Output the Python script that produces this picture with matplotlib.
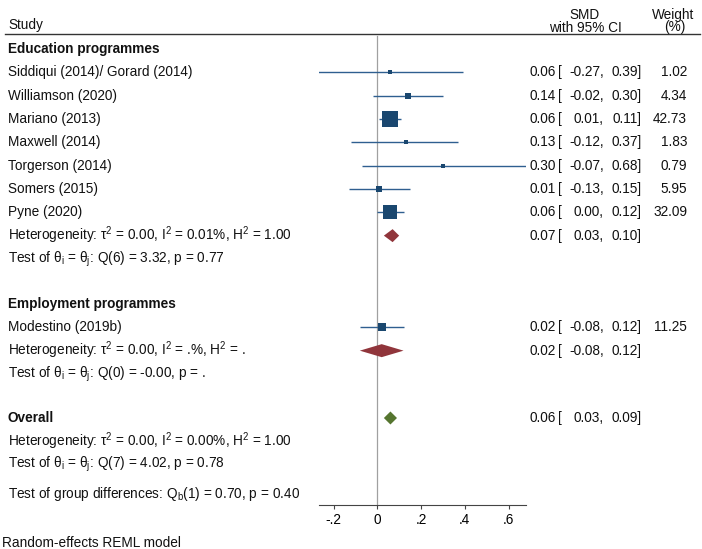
import numpy as np
import matplotlib
matplotlib.use("Agg")
import matplotlib.pyplot as plt
from matplotlib.patches import Polygon
from matplotlib.transforms import blended_transform_factory

plt.rcParams['font.family'] = ['Liberation Sans', 'DejaVu Sans']
plt.rcParams['mathtext.fontset'] = 'custom'
plt.rcParams['mathtext.rm'] = 'Liberation Sans'
plt.rcParams['mathtext.it'] = 'Liberation Sans:italic'
plt.rcParams['mathtext.bf'] = 'Liberation Sans:bold'

# Data
edu_studies = ["Siddiqui (2014)/ Gorard (2014)", "Williamson (2020)", "Mariano (2013)",
               "Maxwell (2014)", "Torgerson (2014)", "Somers (2015)", "Pyne (2020)"]
edu_smd = [0.06, 0.14, 0.06, 0.13, 0.30, 0.01, 0.06]
edu_lo = [-0.27, -0.02, 0.01, -0.12, -0.07, -0.13, 0.00]
edu_hi = [0.39, 0.30, 0.11, 0.37, 0.68, 0.15, 0.12]
edu_weight = [1.02, 4.34, 42.73, 1.83, 0.79, 5.95, 32.09]

emp_studies = ["Modestino (2019b)"]
emp_smd = [0.02]
emp_lo = [-0.08]
emp_hi = [0.12]
emp_weight = [11.25]

# pooled estimates: education, employment, overall
pooled_smd = [0.07, 0.02, 0.06]
pooled_lo = [0.03, -0.08, 0.03]
pooled_hi = [0.10, 0.12, 0.09]

edu_stats = ["Heterogeneity: τ$^2$ = 0.00, I$^2$ = 0.01%, H$^2$ = 1.00",
             "Test of θ$_\\mathrm{i}$ = θ$_\\mathrm{j}$: Q(6) = 3.32, p = 0.77"]
emp_stats = ["Heterogeneity: τ$^2$ = 0.00, I$^2$ = .%, H$^2$ = .",
             "Test of θ$_\\mathrm{i}$ = θ$_\\mathrm{j}$: Q(0) = -0.00, p = ."]
all_stats = ["Heterogeneity: τ$^2$ = 0.00, I$^2$ = 0.00%, H$^2$ = 1.00",
             "Test of θ$_\\mathrm{i}$ = θ$_\\mathrm{j}$: Q(7) = 4.02, p = 0.78"]
group_test = "Test of group differences: Q$_\\mathrm{b}$(1) = 0.70, p = 0.40"

xticks = [-0.2, 0, 0.2, 0.4, 0.6]
xticklabels = ["-.2", "0", ".2", ".4", ".6"]

# Layout (figure is 702 x 549 px, y axis uses pixel rows from the top)
W, H = 702, 549
FS = 9.8
navy = "#1a476f"
line_blue = "#2f5f90"
maroon = "#90353b"
green = "#55752f"

fig = plt.figure(figsize=(W / 100, H / 100), dpi=100)
x0, x1 = 318.7, 526.0
ax = fig.add_axes([x0 / W, 0, (x1 - x0) / W, 1])
ax.set_xlim(-0.268, 0.68)
ax.set_ylim(H, 0)
for s in ['top', 'left', 'right']:
    ax.spines[s].set_visible(False)
ax.spines['bottom'].set_position(('data', 505))
ax.spines['bottom'].set_color('#444444')
ax.spines['bottom'].set_linewidth(0.8)
ax.set_yticks([])
ax.set_xticks(xticks)
ax.set_xticklabels(xticklabels, fontsize=FS)
ax.tick_params(axis='x', direction='out', length=3, width=0.8, color='#444444', pad=3)

tr = blended_transform_factory(fig.transFigure, ax.transData)


def txt(xpx, y, s, ha='left', bold=False):
    ax.text(xpx / W, y, s, transform=tr, ha=ha, va='center', fontsize=FS,
            fontweight='bold' if bold else 'normal', color='#111111', clip_on=False)


def ci_text(y, est, lo, hi, w=None):
    txt(530, y, f"{est:.2f}")
    txt(558, y, "[")
    txt(604, y, f"{lo:.2f},", ha='right')
    txt(641.5, y, f"{hi:.2f}]", ha='right')
    if w is not None:
        txt(687, y, f"{w:.2f}", ha='right')


def diamond(y, est, lo, hi, color, h=13):
    ax.add_patch(Polygon([(lo, y), (est, y - h / 2), (hi, y), (est, y + h / 2)],
                         closed=True, facecolor=color, edgecolor='none', zorder=4))


max_w = max(edu_weight + emp_weight)


def study(y, name, est, lo, hi, w):
    txt(8, y, name)
    ax.plot([lo, hi], [y, y], color=line_blue, lw=1.0, zorder=3, solid_capstyle='butt')
    side = max(11.7 * np.sqrt(w / max_w), 2.2)
    ax.scatter([est], [y], marker='s', s=side ** 2, color=navy, linewidths=0, zorder=4)
    ci_text(y, est, lo, hi, w)


# header
txt(8, 25, "Study")
txt(585, 15, "SMD", ha='center')
txt(585, 27.5, "with 95% CI", ha='center')
txt(673, 15, "Weight", ha='center')
txt(675, 27.5, "(%)", ha='center')
ax.plot([5 / W, 700 / W], [34, 34], transform=tr, color='#333333', lw=1.0, clip_on=False)

# zero line
ax.plot([0, 0], [36, 505], color='#a0a0a0', lw=0.9, zorder=1)

step = 23.33
# Education
txt(8, 49, "Education programmes", bold=True)
y = 49
for i in range(len(edu_studies)):
    y += step
    study(y, edu_studies[i], edu_smd[i], edu_lo[i], edu_hi[i], edu_weight[i])
y += step
txt(8, y, edu_stats[0])
diamond(y, pooled_smd[0], pooled_lo[0], pooled_hi[0], maroon)
ci_text(y, pooled_smd[0], pooled_lo[0], pooled_hi[0])
y += step
txt(8, y, edu_stats[1])

# Employment
y = 304
txt(8, y, "Employment programmes", bold=True)
for i in range(len(emp_studies)):
    y += step
    study(y, emp_studies[i], emp_smd[i], emp_lo[i], emp_hi[i], emp_weight[i])
y += step
txt(8, y, emp_stats[0])
diamond(y, pooled_smd[1], pooled_lo[1], pooled_hi[1], maroon)
ci_text(y, pooled_smd[1], pooled_lo[1], pooled_hi[1])
y += step
txt(8, y, emp_stats[1])

# Overall
y = 418
txt(8, y, "Overall", bold=True)
diamond(y, pooled_smd[2], pooled_lo[2], pooled_hi[2], green)
ci_text(y, pooled_smd[2], pooled_lo[2], pooled_hi[2])
txt(8, 441.5, all_stats[0])
txt(8, 464.5, all_stats[1])
txt(8, 494, group_test)

txt(2, 543, "Random-effects REML model")

fig.savefig("out.png", dpi=100)
